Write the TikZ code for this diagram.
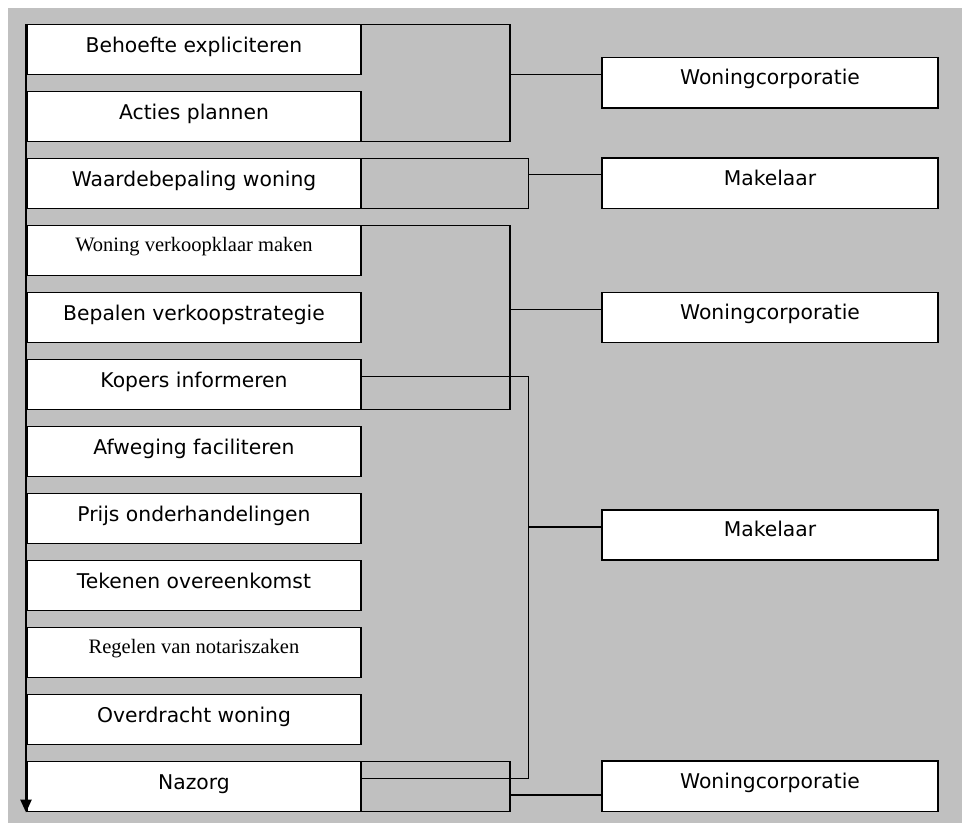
\documentclass[tikz,border=0pt]{standalone}
\usepackage{fontspec}
\setmainfont{DejaVu Sans}
\newfontfamily\serifface{Liberation Serif}
\usetikzlibrary{arrows.meta,calc}
\definecolor{panel}{RGB}{192,192,192}

\begin{document}
\begin{tikzpicture}[x=1pt,y=-1pt,
  task/.style={draw=black,line width=1.4pt,fill=white,inner sep=0pt,outer sep=0pt,
    minimum width=334pt,minimum height=50.4pt,text height=13.3pt,text depth=6.7pt,
    font=\fontsize{20.3}{24}\selectfont},
  serif task/.style={task,text height=11.3pt,text depth=8.7pt,
    font=\serifface\fontsize{20.5}{24}\selectfont},
  actor/.style={task,minimum width=336pt,minimum height=50.3pt,
    text height=12pt,text depth=8.3pt},
  link/.style={draw=black,line width=1.4pt},
]
\useasboundingbox (0,0) rectangle (962,823);
\fill[white] (0,0) rectangle (962,823);
\fill[panel] (8,8) rectangle (962,823);

% process steps
\node[task] (b1) at (194,49.5) {Behoefte expliciteren};
\node[task] (b2) at (194,116.5) {Acties plannen};
\node[task] (b3) at (194,183.5) {Waardebepaling woning};
\node[serif task] (b4) at (194,250.5) {Woning verkoopklaar maken};
\node[task] (b5) at (194,317.5) {Bepalen verkoopstrategie};
\node[task] (b6) at (194,384.5) {Kopers informeren};
\node[task] (b7) at (194,451.5) {Afweging faciliteren};
\node[task] (b8) at (194,518.5) {Prijs onderhandelingen};
\node[task] (b9) at (194,585.5) {Tekenen overeenkomst};
\node[serif task] (b10) at (194,652.5) {Regelen van notariszaken};
\node[task] (b11) at (194,719.5) {Overdracht woning};
\node[task] (b12) at (194,786.5) {Nazorg};

% responsible parties
\node[actor] (r1) at (770,82.9) {Woningcorporatie};
\node[actor] (r2) at (770,183.3) {Makelaar};
\node[actor] (r3) at (770,317.5) {Woningcorporatie};
\node[actor] (r4) at (770,535) {Makelaar};
\node[actor] (r5) at (770,786.3) {Woningcorporatie};

% brackets grouping steps per party
\coordinate (j1) at (510,74.7);
\draw[link] (b1.north east) -| (j1) |- (b2.south east);
\draw[link] (j1) -- (j1 -| r1.west);

\coordinate (j2) at (528.7,174.7);
\draw[link] (b3.north east) -| (j2) |- (b3.south east);
\draw[link] (j2) -- (j2 -| r2.west);

\coordinate (j3) at (510,309.3);
\draw[link] (b4.north east) -| (j3) |- (b6.south east);
\draw[link] (j3) -- (j3 -| r3.west);

\coordinate (k6) at ($(b6.east)+(0,-8.2)$);
\coordinate (k12) at ($(b12.east)+(0,-8.2)$);
\coordinate (j4) at (528.7,527);
\draw[link] (k6) -| (j4) |- (k12);
\draw[link] (j4) -- (j4 -| r4.west);

\coordinate (j5) at (510,795);
\draw[link] (b12.north east) -| (j5) |- (b12.south east);
\draw[link] (j5) -- (j5 -| r5.west);

% time axis
\coordinate (flowtop) at (26,24.3);
\coordinate (flowend) at (26,812.5);
\draw[line width=2.6pt,-{Triangle[width=11pt,length=13pt]}] (flowtop) -- (flowend);
\end{tikzpicture}
\end{document}
